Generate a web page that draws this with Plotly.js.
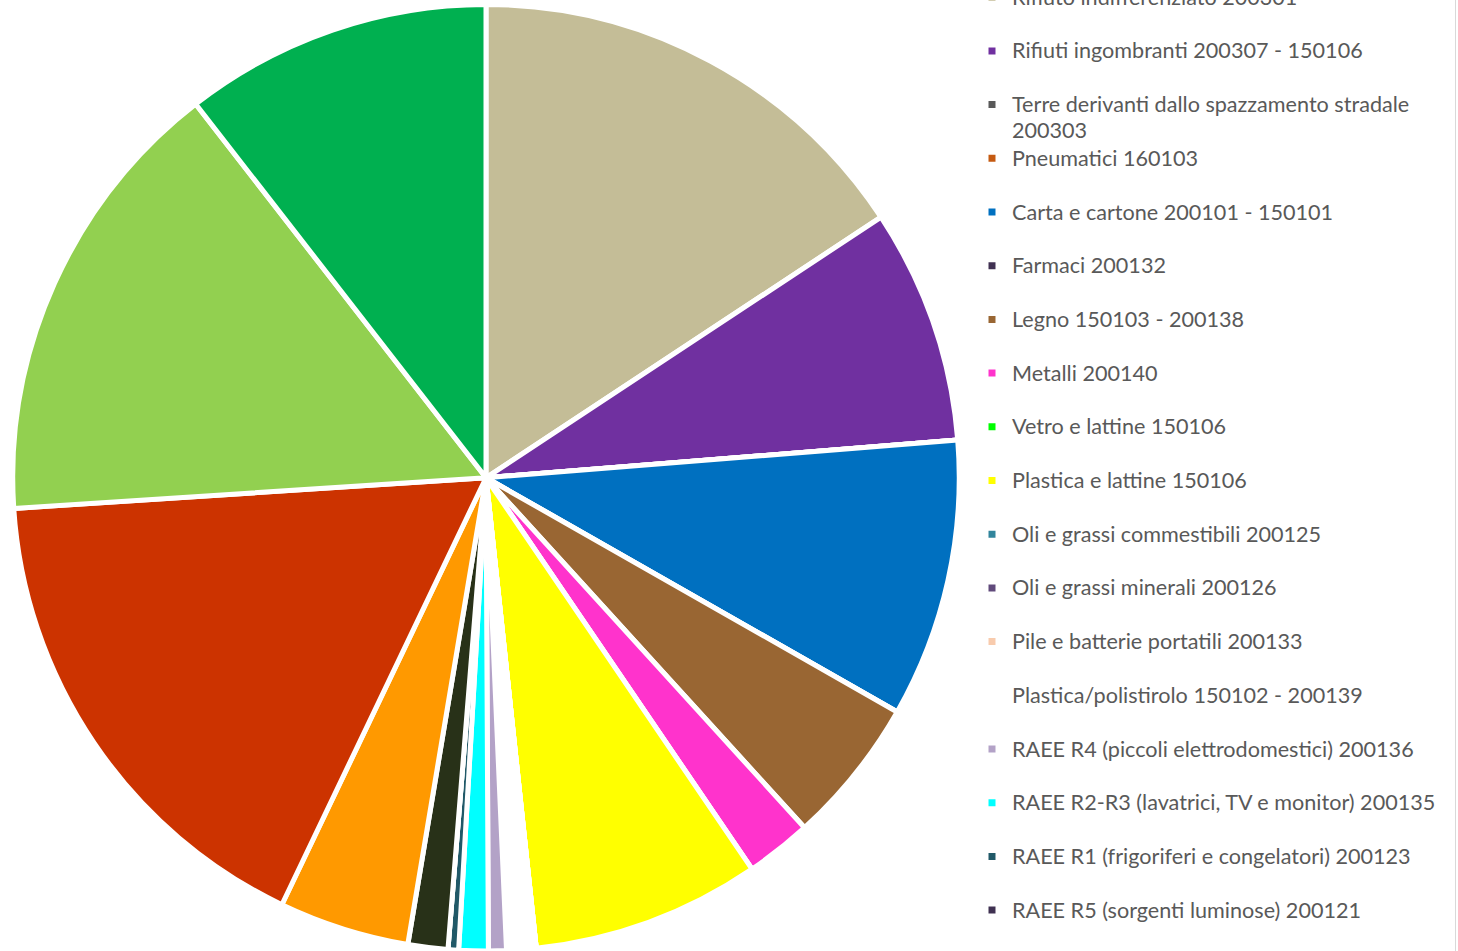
<!DOCTYPE html>
<html>
<head>
<meta charset="utf-8">
<script src="https://cdn.plot.ly/plotly-3.0.1.min.js"></script>
<style>
  html, body { margin: 0; padding: 0; background: #ffffff; overflow: hidden; }
  #chart { position: absolute; left: 0; }
  .legend .scrollbar { display: none; }
</style>
</head>
<body>
<div id="chart"></div>
<script>
// ---- data (percent shares) ----
const labels = [
  "Rifiuto indifferenziato 200301",
  "Rifiuti ingombranti 200307 - 150106",
  "Terre derivanti dallo spazzamento stradale 200303",
  "Pneumatici 160103",
  "Carta e cartone 200101 - 150101",
  "Farmaci 200132",
  "Legno 150103 - 200138",
  "Metalli 200140",
  "Vetro e lattine 150106",
  "Plastica e lattine 150106",
  "Oli e grassi commestibili 200125",
  "Oli e grassi minerali 200126",
  "Pile e batterie portatili 200133",
  "Plastica/polistirolo 150102 - 200139",
  "RAEE R4 (piccoli elettrodomestici) 200136",
  "RAEE R2-R3 (lavatrici, TV e monitor) 200135",
  "RAEE R1 (frigoriferi e congelatori) 200123",
  "RAEE R5 (sorgenti luminose) 200121",
  "Abiti e prodotti tessili 200110",
  "Inerti 170904",
  "Frazione organica umida 200108",
  "Sfalci e potature 200201",
  "Vetro 150107"
];
const values = [
  15.7, 8.0, 0, 0, 9.5, 0, 5.0, 2.25, 0, 7.8, 0, 0, 0, 1.0,
  0.61, 1.0, 0.36, 0, 1.36, 4.45, 16.85, 15.5, 10.5
];
const colors = [
  "#C4BD97", "#7030A0", "#595959", "#C55A11", "#0070C0", "#403152",
  "#996633", "#FF33CC", "#00FF00", "#FFFF00", "#31859C", "#604A7B",
  "#F8CBAD", "#FFFFFF", "#B3A2C7", "#00FFFF", "#215968", "#3F3151",
  "#283118", "#FF9900", "#CC3300", "#92D050", "#00B050"
];

// ---- layout helpers ----
const W = 1458;
const OFFSET = 22;            // legend starts above the visible page
const H = 951 + OFFSET;
const chart = document.getElementById('chart');
chart.style.top = (-OFFSET) + 'px';
chart.style.width = W + 'px';
chart.style.height = H + 'px';

// pie geometry in page pixels
const cx = 486, cy = 478 + OFFSET, R = 473.5;

// legend text: wrap long labels, pad short ones to two lines (sets item spacing);
// visible glyphs drawn a bit larger than the spacing font
const TXT = 'font-size:21.6px';
function legendText(s) {
  const max = 44;
  if (s.length > max) {
    const cut = s.lastIndexOf(' ', max);
    return '<span style="' + TXT + '">' + s.slice(0, cut) + '</span><br>' +
           '<span style="' + TXT + '">' + s.slice(cut + 1) + '</span>';
  }
  return '<span style="' + TXT + '">' + s + '</span><br> ';
}

const trace = {
  type: 'pie',
  labels: labels.map(legendText),
  values: values,
  sort: false,
  direction: 'clockwise',
  rotation: 0,
  textinfo: 'none',
  hoverinfo: 'percent',
  marker: { colors: colors, line: { color: '#FFFFFF', width: 5 } },
  domain: {
    x: [(cx - R) / W, (cx + R) / W],
    y: [(H - (cy + R)) / H, (H - (cy - R)) / H]
  }
};

const layout = {
  width: W,
  height: H,
  margin: { l: 0, r: 0, t: 0, b: 0, pad: 0 },
  paper_bgcolor: '#FFFFFF',
  showlegend: true,
  legend: {
    x: 972 / W, xanchor: 'left',
    y: 1, yanchor: 'top',
    valign: 'top',
    bgcolor: 'rgba(0,0,0,0)',
    borderwidth: 0,
    font: { family: 'Lato, "Open Sans", sans-serif', size: 19.5, color: '#595959' }
  },
  shapes: [{
    type: 'line', xref: 'paper', yref: 'paper',
    x0: 1455.5 / W, x1: 1455.5 / W, y0: 0, y1: 1,
    line: { color: '#D9D9D9', width: 1 }
  }]
};

Plotly.newPlot(chart, [trace], layout, { displayModeBar: false });
</script>
</body>
</html>
